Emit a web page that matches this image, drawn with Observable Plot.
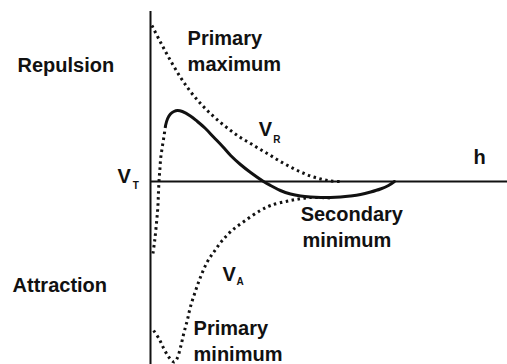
<!DOCTYPE html>
<html><head><meta charset="utf-8">
<script src="https://cdn.jsdelivr.net/npm/d3@7"></script>
<script src="https://cdn.jsdelivr.net/npm/@observablehq/plot@0.6"></script>
<style>body{margin:0;background:#fff}#chart svg{display:block}</style>
</head><body><div id="chart"></div>
<script>
// Repulsive energy V_R vs separation h (arbitrary units)
const vrH = [0.04,0.29,0.57,0.86,1.14,1.43,1.71,2.00,2.29,2.57,2.86,3.14,3.43,3.71,4.00,4.29,4.57,4.86,5.14,5.43];
const vrV = [3.12,2.78,2.42,2.08,1.80,1.56,1.36,1.18,1.02,0.88,0.76,0.64,0.52,0.40,0.29,0.19,0.11,0.05,0.01,0];

// Attractive energy V_A
const vaH = [0.09,0.24,0.38,0.52,0.67,0.76,0.86,0.95,1.05,1.14,1.29,1.43,1.62,1.81,2.05,2.33,2.71,3.14,3.43,4.00,4.57,5.14];
const vaV = [-2.98,-3.14,-3.34,-3.51,-3.61,-3.54,-3.31,-3.04,-2.78,-2.51,-2.18,-1.91,-1.61,-1.41,-1.18,-0.98,-0.78,-0.58,-0.48,-0.38,-0.32,-0.33];

// Total energy V_T (dotted for h < 0.43, solid beyond)
const vtH = [0.07,0.12,0.17,0.21,0.23,0.25,0.27,0.29,0.33,0.38,0.43,0.49,0.57,0.67,0.77,0.91,1.14,1.34,1.57,1.80,2.06,2.29,2.57,2.86,3.23,3.43,3.71,4.00,4.29,4.57,4.86,5.14,5.43,5.71,6.00,6.29,6.57,6.80,6.97];
const vtV = [-1.44,-1.18,-0.84,-0.51,-0.18,0.08,0.26,0.46,0.66,0.88,1.12,1.26,1.35,1.40,1.42,1.40,1.31,1.20,1.06,0.89,0.70,0.52,0.34,0.18,0,-0.08,-0.18,-0.25,-0.29,-0.31,-0.32,-0.32,-0.31,-0.29,-0.26,-0.21,-0.15,-0.08,0];
const vtSolidFrom = 0.43;

// Annotations
const labelText = ["Repulsion","Attraction","Primary","maximum","Secondary","minimum","Primary","minimum","h","V","V","V"];
const labelH    = [-3.80,-3.94,1.06,1.06,4.29,4.34,1.23,1.23,9.23,-0.94,3.09,2.06];
const labelV    = [2.20,-2.20,2.74,2.22,-0.79,-1.31,-3.06,-3.58,0.36,-0.02,0.92,-1.98];
const subText = ["T","R","A"];
const subH    = [-0.51,3.51,2.46];
const subV    = [-0.14,0.78,-2.07];

const toPts = (hs, vs) => hs.map((h, i) => ({h, v: vs[i]}));
const vr = toPts(vrH, vrV);
const va = toPts(vaH, vaV);
const vt = toPts(vtH, vtV);
const labels = labelText.map((t, i) => ({t, h: labelH[i], v: labelV[i]}));
const subs = subText.map((t, i) => ({t, h: subH[i], v: subV[i]}));

const font = "Liberation Sans, Arial, Helvetica, sans-serif";
const dotted = {stroke: "#111", strokeWidth: 3, strokeDasharray: "2.5,3.5", strokeLinecap: "butt", curve: "catmull-rom"};

const chart = Plot.plot({
  width: 507,
  height: 364,
  marginTop: 0, marginRight: 0, marginBottom: 0, marginLeft: 0,
  x: {domain: [-150/35, 357/35], axis: null},
  y: {domain: [-3.66, 3.62], axis: null},
  style: {background: "#fff", fontFamily: font},
  marks: [
    Plot.ruleX([0], {y1: 3.40, y2: -3.66, stroke: "#111", strokeWidth: 2}),
    Plot.ruleY([0], {x1: 0, x2: 357/35, stroke: "#111", strokeWidth: 2}),
    Plot.line(vr, {x: "h", y: "v", ...dotted}),
    Plot.line(va, {x: "h", y: "v", ...dotted}),
    Plot.line(vt.filter(d => d.h <= vtSolidFrom), {x: "h", y: "v", ...dotted}),
    Plot.line(vt.filter(d => d.h >= vtSolidFrom), {x: "h", y: "v", stroke: "#111", strokeWidth: 3, curve: "catmull-rom"}),
    Plot.text(labels, {x: "h", y: "v", text: "t", textAnchor: "start", lineAnchor: "bottom", fontSize: 20, fontWeight: "bold", fill: "#111", fontFamily: font}),
    Plot.text(subs, {x: "h", y: "v", text: "t", textAnchor: "start", lineAnchor: "bottom", fontSize: 10, fontWeight: "bold", fill: "#111", fontFamily: font})
  ]
});
document.getElementById("chart").appendChild(chart);
</script>
</body></html>
